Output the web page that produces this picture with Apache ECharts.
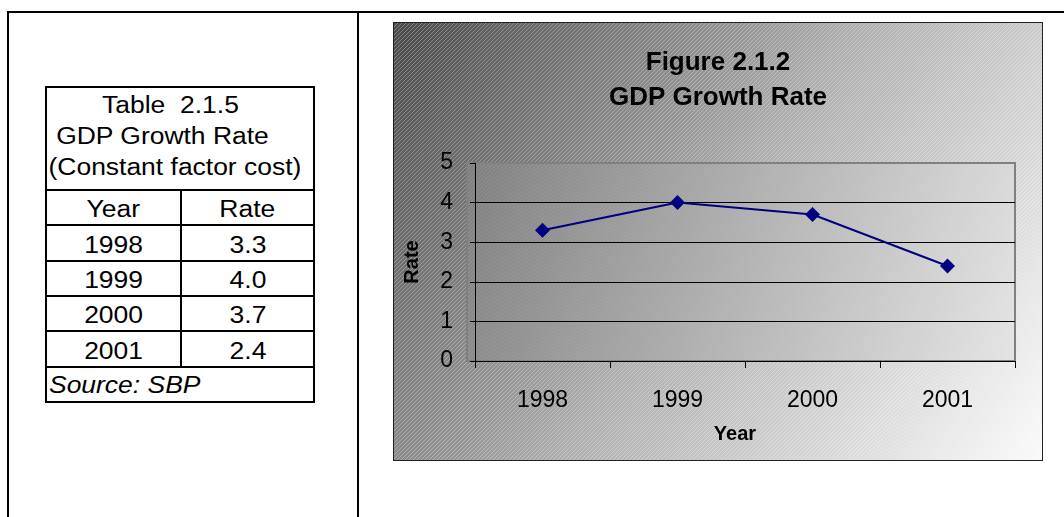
<!DOCTYPE html>
<html>
<head>
<meta charset="utf-8">
<title>GDP Growth Rate</title>
<script src="https://cdn.jsdelivr.net/npm/echarts@6/dist/echarts.min.js"></script>
<style>
  html, body { margin: 0; padding: 0; background: #fff; }
  body { width: 1064px; height: 517px; position: relative; overflow: hidden;
         font-family: "Liberation Sans", Arial, sans-serif; color: #000; }
  .rule { position: absolute; background: #000; }
  .cell { position: absolute; font-size: 23px; white-space: pre; }
  .cell span { display: inline-block; transform: scaleX(1.15); transform-origin: center; }
  .cell.left span { transform-origin: left center; }
  #chart { position: absolute; left: 393px; top: 22px; width: 648px; height: 437px;
           border: 1px solid #222; }
</style>
</head>
<body>
<div id="page"></div>
<div id="chart"></div>
<script>
// Data
const tableTitle = ['Table  2.1.5', 'GDP Growth Rate', '(Constant factor cost)'];
const tableHeader = ['Year', 'Rate'];
const years = ['1998', '1999', '2000', '2001'];
const growthRate = [3.3, 4.0, 3.7, 2.4];
const sourceNote = 'Source: SBP';
const chartTitle = ['Figure 2.1.2', 'GDP Growth Rate'];
const xAxisName = 'Year';
const yAxisName = 'Rate';
const rateAxis = { min: 0, max: 5, interval: 1 };

// Page frame and table
const page = document.getElementById('page');
function rule(x, y, w, h) {
  const d = document.createElement('div');
  d.className = 'rule';
  Object.assign(d.style, { left: x + 'px', top: y + 'px', width: w + 'px', height: h + 'px' });
  page.appendChild(d);
}
function cell(text, x, y, w, h, opts) {
  opts = opts || {};
  const d = document.createElement('div');
  d.className = 'cell' + (opts.left ? ' left' : '');
  Object.assign(d.style, {
    left: x + 'px', top: y + 'px', width: w + 'px', height: h + 'px',
    lineHeight: h + 'px', textAlign: opts.left ? 'left' : 'center',
    fontStyle: opts.italic ? 'italic' : 'normal'
  });
  const s = document.createElement('span');
  s.textContent = text;
  d.appendChild(s);
  page.appendChild(d);
}

// outer frame lines
rule(7, 11, 1057, 2);
rule(7, 11, 2, 506);
rule(357, 11, 2, 506);

// table geometry
const tL = 46, tR = 314, colX = 181, tTop = 87, headTop = 190, rowH = 35.3;
const rowTops = [];
for (let i = 0; i <= years.length + 2; i++) rowTops.push(Math.round(headTop + i * rowH));
const tBottom = rowTops[rowTops.length - 1];

// title lines (each line's text is set slightly left of the cell centre)
const titleShift = [-20, -36, -10];
tableTitle.forEach((t, i) => cell(t, tL, tTop + 3 + i * 31, tR - tL + titleShift[i], 31));
// header
cell(tableHeader[0], tL, rowTops[0] + 2, colX - tL, rowTops[1] - rowTops[0]);
cell(tableHeader[1], colX, rowTops[0] + 2, tR - colX, rowTops[1] - rowTops[0]);
// body
years.forEach((y, i) => {
  const top = rowTops[i + 1], h = rowTops[i + 2] - top;
  cell(y, tL, top + 2, colX - tL, h);
  cell(growthRate[i].toFixed(1), colX, top + 2, tR - colX, h);
});
// source row
{
  const top = rowTops[years.length + 1], h = tBottom - top;
  cell(sourceNote, tL + 3, top + 1, tR - tL - 3, h, { left: true, italic: true });
}
// table rules
rule(tL - 1, tTop - 1, tR - tL + 2, 2);
rowTops.forEach(y => rule(tL - 1, y - 1, tR - tL + 2, 2));
rule(tL - 1, tTop - 1, 2, tBottom - tTop + 2);
rule(tR - 1, tTop - 1, 2, tBottom - tTop + 2);
rule(colX - 1, rowTops[0] - 1, 2, rowTops[years.length + 1] - rowTops[0]);

// Chart
const W = 648, H = 437;
const grid = { left: 73, top: 140, width: 548, height: 198 };

function hatch(alpha) {
  const c = document.createElement('canvas');
  c.width = 4; c.height = 4;
  const g = c.getContext('2d');
  g.fillStyle = 'rgba(255,255,255,' + alpha + ')';
  for (let i = 0; i < 4; i++) g.fillRect(i, 3 - i, 1, 1);
  return c;
}

const chart = echarts.init(document.getElementById('chart'), null, { renderer: 'canvas' });
const font = '"Liberation Sans", Arial, sans-serif';

chart.setOption({
  animation: false,
  title: {
    text: chartTitle.join('\n'),
    left: 'center',
    top: 17,
    textStyle: { fontFamily: font, fontSize: 26, fontWeight: 'bold', color: '#000', lineHeight: 35 }
  },
  graphic: [
    {
      type: 'rect', z: -100, silent: true,
      shape: { x: 0, y: 0, width: W, height: H },
      style: {
        fill: new echarts.graphic.LinearGradient(0, 0, 1, 1, [
          { offset: 0, color: '#4a4a4a' },
          { offset: 0.5, color: '#b0b0b0' },
          { offset: 1, color: '#fafafa' }
        ])
      }
    },
    {
      type: 'rect', z: -99, silent: true,
      shape: { x: 0, y: 0, width: W, height: H },
      style: { fill: { image: hatch(0.3), repeat: 'repeat' } }
    },
    {
      type: 'rect', z: -98, silent: true,
      shape: { x: grid.left, y: grid.top, width: grid.width, height: grid.height },
      style: {
        fill: new echarts.graphic.LinearGradient(0, 0, 1, 1, [
          { offset: 0, color: '#808080' },
          { offset: 1, color: '#e4e4e4' }
        ])
      }
    },
    {
      type: 'rect', z: -97, silent: true,
      shape: { x: grid.left, y: grid.top, width: grid.width, height: grid.height },
      style: { fill: { image: hatch(0.08), repeat: 'repeat' }, stroke: '#808080', lineWidth: 2 }
    }
  ],
  grid: Object.assign({ containLabel: false }, grid),
  xAxis: {
    type: 'category',
    data: years,
    boundaryGap: true,
    name: xAxisName,
    nameLocation: 'middle',
    nameGap: 63,
    nameTextStyle: { fontFamily: font, fontSize: 20, fontWeight: 'bold', color: '#000', padding: [0, 20, 0, 0] },
    axisLine: { lineStyle: { color: '#000', width: 1 } },
    axisTick: { show: true, alignWithLabel: false, length: 7, lineStyle: { color: '#000' } },
    axisLabel: { fontFamily: font, fontSize: 23, color: '#000', margin: 28 },
    splitLine: { show: false }
  },
  yAxis: {
    type: 'value',
    min: rateAxis.min,
    max: rateAxis.max,
    interval: rateAxis.interval,
    name: yAxisName,
    nameLocation: 'middle',
    nameGap: 53,
    nameTextStyle: { fontFamily: font, fontSize: 20, fontWeight: 'bold', color: '#000' },
    axisLine: { show: true, lineStyle: { color: '#000', width: 1 } },
    axisTick: { show: true, length: 5, lineStyle: { color: '#000' } },
    axisLabel: { fontFamily: font, fontSize: 23, color: '#000', margin: 22, padding: [7, 0, 0, 0] },
    splitLine: { show: true, showMaxLine: false, lineStyle: { color: '#000', width: 1 } }
  },
  series: [{
    type: 'line',
    data: growthRate,
    symbol: 'diamond',
    symbolSize: 15,
    z: 10,
    itemStyle: { color: '#000080' },
    lineStyle: { color: '#000080', width: 2 }
  }]
});
</script>
</body>
</html>
